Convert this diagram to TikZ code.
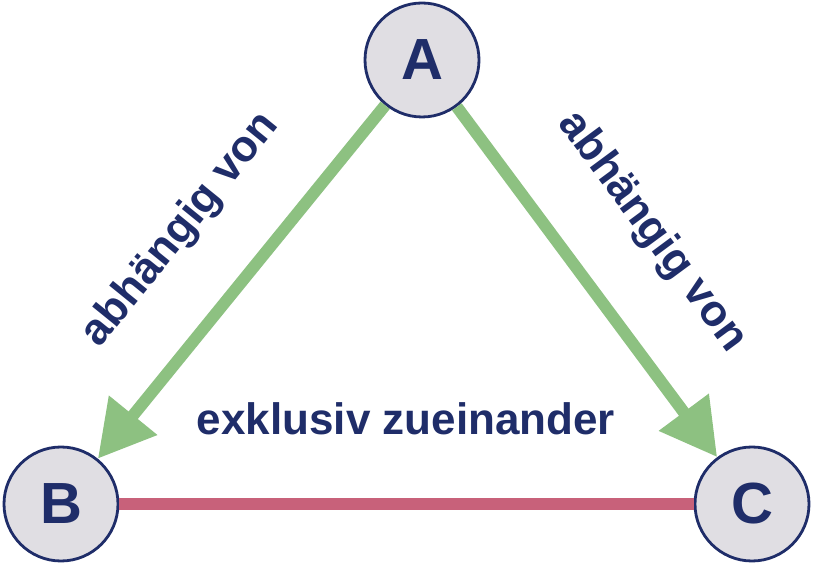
\documentclass[tikz,border=0pt]{standalone}
\usepackage{fontspec}
\setmainfont{Liberation Sans}
\usetikzlibrary{arrows.meta}
\definecolor{marine}{HTML}{1F2D69}
\definecolor{knoten}{HTML}{E0DEE3}
\definecolor{gruen}{HTML}{8DC181}
\definecolor{rosa}{HTML}{C8617A}

\begin{document}
\begin{tikzpicture}[font=\bfseries\fontsize{31.3}{36}\selectfont, text=marine,
  kreis/.style={circle, draw=marine, line width=2pt, fill=knoten, minimum size=2.85cm, inner sep=0pt, font=\bfseries\fontsize{41.3}{48}\selectfont},
  abh/.style={gruen, line width=8.5pt, -{Triangle[length=1.4cm, width=1.48cm]}}]
\useasboundingbox (0,0) rectangle (20.325,14.15);
\node[kreis] (A) at (10.55,12.65) {A};
\node[kreis] (B) at (1.525,1.55) {B};
\node[kreis] (C) at (18.8,1.55) {C};
\draw[abh] (A) -- (B);
\draw[abh] (A) -- (C);
\draw[rosa, line width=9.2pt] (B) -- (C);
\node[rotate=51] (abhB) at (4.525,8.4) {abhängig von};
\node[rotate=-53.5] (abhC) at (16.3,8.35) {abhängig von};
\node[anchor=base] (exkl) at (10.15,3.275) {exklusiv zueinander};
\end{tikzpicture}
\end{document}
